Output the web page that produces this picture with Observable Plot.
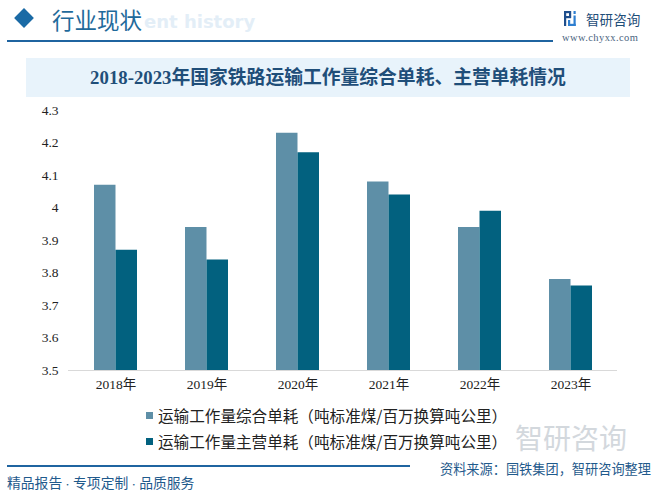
<!DOCTYPE html>
<html>
<head>
<meta charset="utf-8">
<script src="https://cdn.jsdelivr.net/npm/d3@7"></script>
<script src="https://cdn.jsdelivr.net/npm/@observablehq/plot@0.6"></script>
<style>
  html, body { margin: 0; padding: 0; background: #fff; }
  #page { position: relative; width: 662px; height: 496px; overflow: hidden; background: #fff; font-family: "Noto Sans CJK SC", "Noto Sans", sans-serif; }
  .abs { position: absolute; white-space: nowrap; }
  .sep { font-size: 7.5px; }
  #chart svg text { font-size: 13.5px; fill: #222; }
</style>
</head>
<body>
<div id="page">
  <!-- header -->
  <div class="abs" style="left:144px;top:11px;font:bold 18px 'DejaVu Sans',sans-serif;color:#e3eef7;">ent history</div>
  <div class="abs" style="left:17px;top:11px;width:14px;height:14px;background:#1a6aa5;transform:rotate(45deg);"></div>
  <div class="abs" style="left:52px;top:4px;font-size:22.5px;color:#1f6a9b;line-height:30px;">行业现状</div>
  <div class="abs" style="left:7px;top:40px;width:546px;height:2px;background:#1f64a0;"></div>
  <svg class="abs" style="left:564px;top:11px;" width="12" height="15" viewBox="0 0 12 15">
    <rect x="0" y="0" width="7" height="2.2" fill="#1f4e8c"/>
    <rect x="0" y="0" width="2.2" height="15" fill="#1f4e8c"/>
    <rect x="5" y="0" width="2.2" height="7" fill="#1f4e8c"/>
    <rect x="2" y="5" width="5" height="2.2" fill="#1f4e8c"/>
    <rect x="9.5" y="0" width="2.2" height="3" fill="#2f7fd0"/>
    <rect x="9.5" y="4.5" width="2.2" height="10.5" fill="#2f7fd0"/>
    <rect x="4" y="12.8" width="7.7" height="2.2" fill="#2f7fd0"/>
    <rect x="4" y="9" width="2.2" height="6" fill="#2f7fd0"/>
  </svg>
  <div class="abs" style="left:586px;top:8px;font-size:13.6px;color:#1f4e79;line-height:22px;">智研咨询</div>
  <div class="abs" style="left:562px;top:32px;font:10.5px 'Liberation Serif',serif;color:#4a6480;letter-spacing:0.4px;">www.chyxx.com</div>

  <!-- title bar -->
  <div class="abs" style="left:26px;top:58px;width:604px;height:39px;background:#e8f3fb;"></div>
  <div class="abs" style="left:26px;top:58px;width:604px;height:39px;line-height:39px;text-align:center;font-family:'Liberation Serif','Noto Sans CJK SC',serif;font-weight:bold;font-size:18.8px;color:#1f4e79;">2018-2023年国家铁路运输工作量综合单耗、主营单耗情况</div>

  <!-- chart -->
  <div id="chart" class="abs" style="left:0;top:100px;"></div>

  <!-- watermark bottom right -->
  <div class="abs" style="left:515px;top:422px;font-size:28px;color:#d3d8dd;line-height:30px;">智研咨询</div>

  <!-- legend -->
  <div id="legend" class="abs" style="left:146px;top:402px;"></div>

  <!-- footer -->
  <div class="abs" style="left:7px;top:465px;width:403px;height:2px;background:#1f64a0;"></div>
  <div class="abs" style="right:11px;top:460px;font-size:13.2px;color:#1f5a8c;line-height:17px;">资料来源：国铁集团，智研咨询整理</div>
  <div class="abs" style="left:7px;top:472px;font-size:13.8px;color:#1f5a8c;line-height:20px;">精品报告<span class="sep"> · </span>专项定制<span class="sep"> · </span>品质服务</div>
</div>
<script>
const years = ["2018年", "2019年", "2020年", "2021年", "2022年", "2023年"];
const comprehensive = [4.07, 3.94, 4.23, 4.08, 3.94, 3.78];
const mainBusiness = [3.87, 3.84, 4.17, 4.04, 3.99, 3.76];
const seriesNames = ["运输工作量综合单耗（吨标准煤/百万换算吨公里）", "运输工作量主营单耗（吨标准煤/百万换算吨公里）"];
const seriesColors = ["#5e8fa7", "#02617f"];
const yTicks = [3.5, 3.6, 3.7, 3.8, 3.9, 4, 4.1, 4.2, 4.3];
const yBase = 3.5;

const rows1 = years.map((y, i) => ({year: y, value: comprehensive[i]}));
const rows2 = years.map((y, i) => ({year: y, value: mainBusiness[i]}));

const width = 662, marginLeft = 68, marginRight = 45;
const step = (width - marginLeft - marginRight) / years.length;
const padInner = 0.53;
const half = step * (1 - padInner) / 2;

const chart = Plot.plot({
  width: width,
  height: 300,
  marginTop: 10,
  marginBottom: 30,
  marginLeft: marginLeft,
  marginRight: marginRight,
  style: {fontFamily: "'Liberation Serif', 'Noto Sans CJK SC', serif", fontSize: "13.5px", color: "#222", background: "transparent"},
  x: {domain: years, paddingInner: padInner, paddingOuter: padInner / 2, label: null, tickSize: 0, tickPadding: 9},
  y: {domain: [yBase, 4.3], ticks: yTicks, tickFormat: d => String(d), label: null, tickSize: 0, tickPadding: 10},
  marks: [
    Plot.barY(rows1, {x: "year", y1: yBase, y2: "value", fill: seriesColors[0], insetRight: half, insetLeft: 0}),
    Plot.barY(rows2, {x: "year", y1: yBase, y2: "value", fill: seriesColors[1], insetLeft: half, insetRight: 0}),
    Plot.ruleY([yBase], {stroke: "#d9d9d9", strokeWidth: 1})
  ]
});
document.getElementById("chart").appendChild(chart);

const legend = document.getElementById("legend");
seriesNames.forEach((name, i) => {
  const row = document.createElement("div");
  row.style.cssText = "display:flex;align-items:center;height:26px;font-size:15.6px;color:#222;";
  const sw = document.createElement("span");
  sw.style.cssText = `display:inline-block;width:7px;height:7px;background:${seriesColors[i]};margin-right:5px;`;
  const t = document.createElement("span");
  t.textContent = name;
  row.appendChild(sw);
  row.appendChild(t);
  legend.appendChild(row);
});
</script>
</body>
</html>
